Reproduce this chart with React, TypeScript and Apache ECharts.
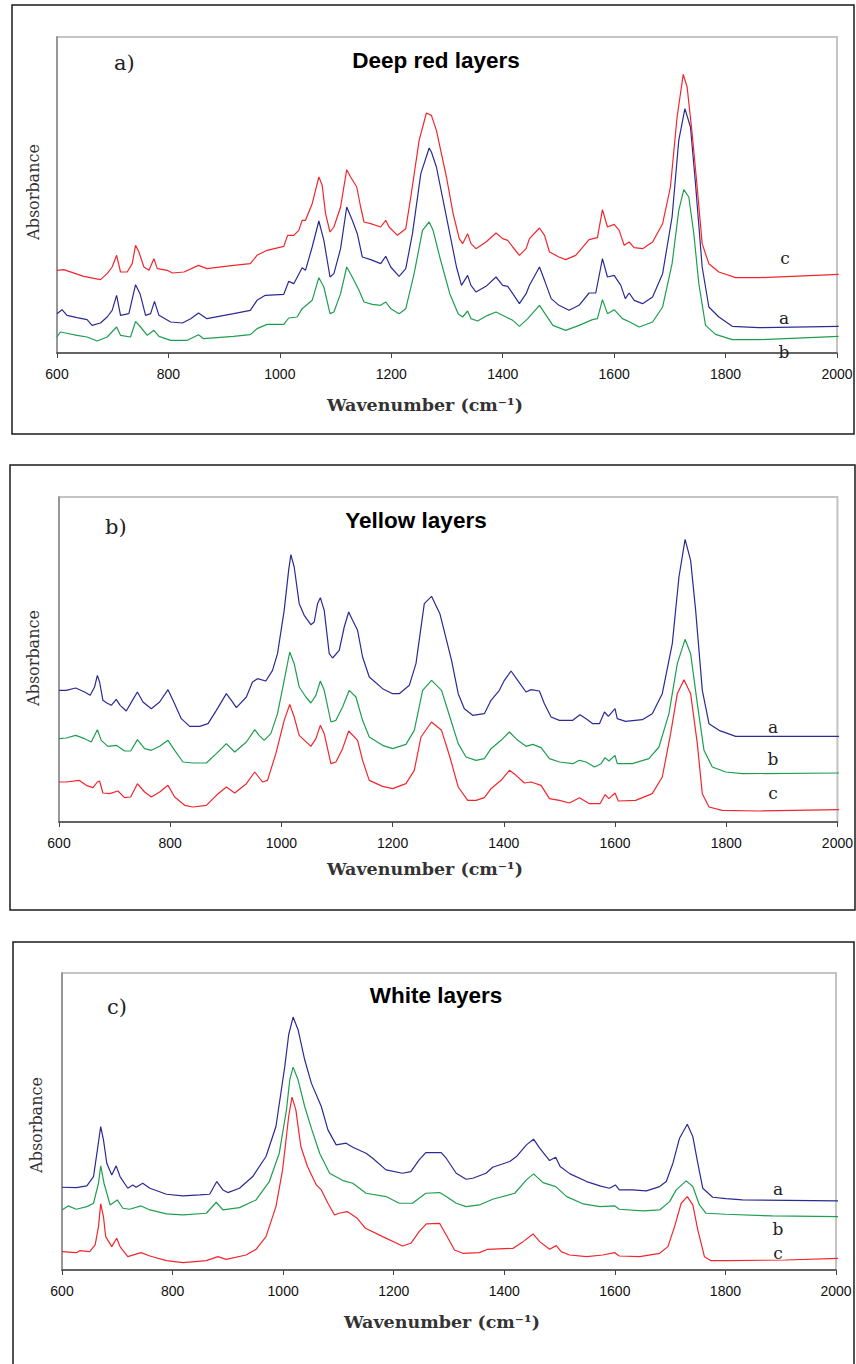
import React, { useEffect, useRef } from "react";
import * as echarts from "echarts";

// ---------- Panel a) Deep red layers (arbitrary absorbance units) ----------
const deepRedA: [number, number][] = [
  [600,118],[609,130],[618,113],[636,106],[654,100],[663,83],[678,90],[690,108],[699,128],[707,173],[714,113],[729,118],[741,205],[749,178],[759,113],[768,118],[775,155],[783,113],[804,93],[825,90],[840,103],[854,120],[869,103],[917,118],[947,128],[959,158],[974,173],[1007,176],[1016,215],[1025,208],[1040,256],[1046,248],[1058,318],[1070,396],[1079,338],[1090,228],[1097,238],[1109,313],[1120,438],[1130,398],[1139,358],[1148,288],[1163,280],[1181,268],[1190,290],[1199,258],[1214,230],[1226,253],[1238,358],[1253,538],[1268,615],[1272,603],[1281,558],[1293,458],[1305,358],[1317,258],[1326,203],[1337,233],[1343,203],[1352,183],[1370,200],[1388,228],[1400,203],[1409,200],[1418,178],[1430,148],[1442,178],[1448,203],[1466,258],[1475,218],[1487,163],[1501,143],[1519,128],[1537,143],[1555,180],[1567,180],[1579,283],[1588,228],[1600,233],[1612,203],[1620,163],[1627,180],[1636,158],[1651,148],[1669,168],[1687,238],[1704,408],[1716,638],[1727,733],[1737,678],[1746,508],[1758,258],[1770,138],[1788,108],[1812,80],[1860,76],[2003,80]
];
const deepRedB: [number, number][] = [
  [600,48],[606,63],[615,60],[636,53],[654,48],[672,36],[690,48],[707,78],[714,53],[732,48],[741,95],[750,78],[762,53],[774,68],[783,50],[804,38],[834,38],[854,55],[863,43],[917,50],[947,55],[959,73],[977,86],[1007,86],[1016,105],[1031,108],[1040,133],[1058,158],[1070,226],[1079,198],[1090,118],[1097,123],[1109,178],[1120,258],[1130,228],[1142,188],[1151,153],[1166,146],[1181,143],[1190,153],[1199,133],[1214,118],[1226,133],[1241,238],[1256,368],[1268,393],[1275,368],[1287,288],[1305,178],[1320,118],[1328,108],[1337,126],[1343,103],[1355,96],[1373,113],[1388,123],[1406,108],[1418,98],[1430,80],[1445,103],[1466,143],[1478,113],[1490,83],[1513,68],[1537,83],[1561,100],[1570,103],[1579,160],[1588,118],[1600,130],[1615,103],[1628,93],[1645,78],[1669,93],[1687,138],[1704,268],[1716,428],[1725,490],[1734,468],[1743,358],[1752,208],[1764,83],[1782,56],[1812,40],[1860,40],[2003,50]
];
const deepRedC: [number, number][] = [
  [600,248],[612,250],[648,230],[678,220],[690,238],[699,258],[707,293],[714,243],[726,243],[735,268],[741,323],[747,303],[756,258],[765,248],[774,283],[780,253],[798,248],[807,240],[828,243],[854,263],[869,253],[917,263],[947,268],[959,293],[977,308],[1007,320],[1014,353],[1025,353],[1034,368],[1040,398],[1046,398],[1058,448],[1070,528],[1076,503],[1082,418],[1090,363],[1097,378],[1109,438],[1120,550],[1127,528],[1138,498],[1145,438],[1151,393],[1163,388],[1181,378],[1190,398],[1196,378],[1211,353],[1226,373],[1235,468],[1250,638],[1263,720],[1272,713],[1281,668],[1299,528],[1311,418],[1322,343],[1328,328],[1337,358],[1343,328],[1352,313],[1370,333],[1388,360],[1400,343],[1409,338],[1418,318],[1430,293],[1442,313],[1448,343],[1466,375],[1475,353],[1484,303],[1501,288],[1513,280],[1531,293],[1555,340],[1570,346],[1579,430],[1588,378],[1600,386],[1609,368],[1618,323],[1627,333],[1636,316],[1651,313],[1669,333],[1687,388],[1701,498],[1713,708],[1724,836],[1731,798],[1740,658],[1749,498],[1758,328],[1770,268],[1788,243],[1818,226],[1860,226],[1919,230],[2003,236]
];

// ---------- Panel b) Yellow layers ----------
const yellowA: [number, number][] = [
  [600,395],[613,395],[630,402],[646,390],[656,380],[664,405],[669,440],[673,420],[679,365],[686,357],[694,350],[703,368],[710,350],[721,333],[732,365],[741,390],[751,360],[766,340],[781,360],[796,397],[805,365],[820,310],[835,287],[853,287],[868,295],[883,335],[901,385],[910,365],[919,343],[937,375],[948,420],[957,430],[972,423],[984,455],[993,505],[1005,635],[1013,755],[1017,802],[1023,765],[1032,655],[1041,620],[1053,592],[1059,600],[1065,655],[1070,673],[1077,635],[1086,505],[1092,492],[1104,515],[1113,585],[1121,630],[1128,605],[1137,575],[1146,495],[1158,435],[1182,400],[1200,385],[1212,385],[1230,410],[1242,475],[1257,655],[1270,677],[1285,625],[1294,565],[1306,485],[1318,385],[1329,340],[1344,320],[1365,325],[1377,365],[1392,395],[1401,425],[1413,453],[1425,425],[1440,390],[1449,397],[1464,393],[1473,355],[1485,315],[1500,305],[1524,305],[1537,322],[1548,310],[1560,295],[1572,295],[1581,330],[1588,317],[1600,340],[1604,310],[1619,302],[1649,307],[1667,325],[1685,385],[1703,535],[1715,735],[1726,848],[1736,785],[1745,635],[1757,395],[1769,295],[1787,275],[1817,257],[1858,257],[2005,257]
];
const yellowB: [number, number][] = [
  [600,250],[613,252],[630,260],[646,250],[658,240],[669,277],[676,245],[688,227],[703,230],[718,213],[729,213],[741,247],[754,220],[766,215],[781,227],[796,245],[808,215],[823,180],[841,177],[865,177],[883,205],[901,235],[916,210],[937,240],[952,277],[960,260],[969,245],[981,265],[993,325],[1005,425],[1015,510],[1023,475],[1032,405],[1044,375],[1053,357],[1062,380],[1070,423],[1077,395],[1089,300],[1098,305],[1110,345],[1122,395],[1134,375],[1146,305],[1158,255],[1182,230],[1200,220],[1224,233],[1239,275],[1254,395],[1270,425],[1288,395],[1303,315],[1318,235],[1332,195],[1350,185],[1365,190],[1377,220],[1395,245],[1410,270],[1425,245],[1440,227],[1452,233],[1467,223],[1482,190],[1500,180],[1524,175],[1536,185],[1548,180],[1563,165],[1575,175],[1582,193],[1589,183],[1600,200],[1604,175],[1631,175],[1661,190],[1679,225],[1697,325],[1712,475],[1726,548],[1736,505],[1748,355],[1760,215],[1775,165],[1799,150],[1829,145],[2005,147]
];
const yellowC: [number, number][] = [
  [600,120],[613,120],[636,125],[649,110],[661,103],[669,120],[673,123],[679,87],[691,85],[706,93],[718,73],[729,75],[741,115],[754,90],[766,75],[781,90],[796,110],[808,75],[826,50],[841,45],[865,50],[883,80],[901,105],[916,87],[937,115],[952,150],[966,120],[975,125],[990,205],[1005,305],[1015,353],[1023,315],[1032,260],[1053,227],[1062,250],[1070,290],[1077,265],[1089,175],[1098,180],[1110,220],[1121,273],[1137,245],[1146,185],[1158,125],[1182,107],[1200,100],[1224,115],[1239,155],[1251,255],[1270,300],[1288,275],[1303,195],[1318,105],[1335,65],[1350,65],[1365,73],[1377,100],[1395,125],[1410,155],[1422,140],[1437,117],[1449,120],[1467,110],[1482,70],[1500,65],[1518,57],[1536,73],[1554,55],[1573,55],[1582,82],[1589,70],[1600,87],[1606,63],[1637,65],[1667,85],[1685,135],[1700,265],[1712,385],[1724,427],[1736,385],[1748,235],[1757,85],[1769,45],[1793,35],[1858,33],[2005,37]
];

// ---------- Panel c) White layers ----------
const whiteA: [number, number][] = [
  [600,248],[626,247],[645,252],[657,280],[664,360],[670,430],[675,390],[681,320],[690,285],[698,312],[705,280],[719,245],[728,255],[734,248],[746,260],[759,245],[789,227],[819,222],[849,225],[867,227],[880,265],[891,240],[900,232],[921,245],[945,280],[969,340],[987,430],[1003,610],[1010,705],[1018,758],[1027,720],[1039,630],[1051,560],[1069,490],[1081,420],[1096,375],[1114,380],[1126,368],[1150,350],[1162,335],[1186,300],[1216,290],[1231,295],[1246,330],[1258,352],[1286,352],[1295,335],[1313,290],[1331,272],[1343,275],[1367,290],[1379,308],[1410,325],[1422,340],[1440,375],[1453,392],[1464,365],[1482,328],[1493,338],[1501,310],[1519,288],[1549,265],[1573,252],[1590,245],[1601,255],[1608,240],[1632,240],[1657,237],[1681,250],[1693,265],[1705,320],[1717,395],[1731,437],[1741,400],[1750,320],[1759,245],[1777,218],[1801,214],[1831,210],[2006,207]
];
const whiteB: [number, number][] = [
  [600,180],[611,192],[626,182],[645,190],[657,200],[666,260],[670,312],[676,260],[687,195],[700,210],[710,185],[722,182],[743,192],[759,180],[789,168],[819,165],[861,170],[879,203],[891,180],[921,187],[951,210],[975,265],[993,350],[1006,480],[1012,570],[1018,608],[1027,570],[1039,490],[1051,425],[1066,350],[1084,290],[1108,268],[1126,260],[1150,230],[1186,220],[1210,200],[1234,200],[1258,230],[1283,232],[1295,220],[1313,200],[1331,190],[1355,195],[1379,212],[1419,230],[1440,270],[1453,288],[1470,262],[1493,250],[1513,220],[1543,198],[1573,190],[1600,192],[1608,182],[1651,177],[1681,180],[1699,205],[1711,240],[1729,267],[1741,250],[1753,195],[1765,170],[1801,167],[1885,162],[2006,160]
];
const whiteC: [number, number][] = [
  [600,55],[626,52],[632,58],[650,55],[660,75],[666,130],[670,198],[675,160],[679,100],[690,70],[699,95],[705,70],[719,40],[743,52],[759,42],[789,28],[819,22],[861,28],[882,40],[897,32],[933,45],[951,62],[969,100],[987,190],[999,300],[1010,460],[1016,518],[1023,480],[1032,370],[1044,310],[1060,255],[1069,240],[1081,200],[1093,165],[1101,170],[1116,175],[1134,155],[1149,125],[1180,100],[1216,72],[1231,80],[1246,115],[1259,138],[1283,140],[1295,105],[1310,60],[1325,50],[1355,52],[1370,62],[1416,65],[1434,85],[1452,108],[1464,85],[1482,62],[1494,73],[1503,55],[1518,45],[1549,40],[1578,45],[1600,52],[1608,42],[1645,40],[1681,50],[1696,70],[1708,130],[1720,200],[1731,220],[1741,195],[1750,120],[1762,40],[1774,28],[1801,28],[1909,30],[2006,35]
];

const panelTitles = ["Deep red layers", "Yellow layers", "White layers"];
const panelTags = ["a)", "b)", "c)"];
const seriesNames = ["a", "b", "c"];
const yMax = [948, 975, 890];
const xTicks = { min: 600, max: 2000, interval: 200 };
const xTitle = "Wavenumber (cm⁻¹)";
const yTitle = "Absorbance";

const BLUE = "#2b2b95";
const GREEN = "#1f9e50";
const RED = "#f2262c";

const grids = [
  { left: 57, top: 37, width: 780, height: 316 },
  { left: 59, top: 497, width: 779, height: 325 },
  { left: 62, top: 973, width: 774, height: 297 },
];
const borders = [
  { x: 12, y: 5, w: 842, h: 429 },
  { x: 10, y: 465, w: 845, h: 445 },
  { x: 13, y: 942, w: 841, h: 440 },
];

export default function App() {
  const ref = useRef<HTMLDivElement>(null);
  useEffect(() => {
    if (!ref.current) return;
    const chart = echarts.init(ref.current, undefined, { renderer: "svg" });
    const panelData = [
      [deepRedA, deepRedB, deepRedC],
      [yellowA, yellowB, yellowC],
      [whiteA, whiteB, whiteC],
    ];
    const colors = [BLUE, GREEN, RED];
    const series: any[] = [];
    panelData.forEach((set, p) => {
      set.forEach((d, i) => {
        series.push({
          type: "line",
          name: seriesNames[i],
          xAxisIndex: p,
          yAxisIndex: p,
          data: d,
          symbol: "none",
          lineStyle: { color: colors[i], width: 1.2 },
          itemStyle: { color: colors[i] },
          z: 3,
        });
      });
    });

    const serif = "'DejaVu Serif', serif";
    const sans = "'Liberation Sans', Arial, sans-serif";
    const graphic: any[] = [];
    borders.forEach((b) => {
      graphic.push({
        type: "rect",
        shape: { x: b.x, y: b.y, width: b.w, height: b.h },
        style: { fill: "none", stroke: "#1a1a1a", lineWidth: 1.5 },
        z: 0,
      });
    });
    const titlePos = [
      { x: 436, y: 60 },
      { x: 416, y: 520 },
      { x: 436, y: 995 },
    ];
    const tagPos = [
      { x: 114, y: 63 },
      { x: 105, y: 527 },
      { x: 107, y: 1007 },
    ];
    const yTitlePos = [
      { x: 33, y: 192 },
      { x: 33, y: 658 },
      { x: 36, y: 1125 },
    ];
    const xTitlePos = [
      { x: 425, y: 405 },
      { x: 425, y: 869 },
      { x: 442, y: 1322 },
    ];
    const labelPos = [
      [{ x: 784, y: 318 }, { x: 784, y: 352 }, { x: 785, y: 258 }],
      [{ x: 773, y: 727 }, { x: 773, y: 759 }, { x: 773, y: 793 }],
      [{ x: 778, y: 1189 }, { x: 778, y: 1229 }, { x: 778, y: 1253 }],
    ];
    for (let p = 0; p < 3; p++) {
      graphic.push({
        type: "text",
        x: titlePos[p].x,
        y: titlePos[p].y,
        style: {
          text: panelTitles[p],
          font: `bold 22.5px ${sans}`,
          fill: "#000",
          align: "center",
          verticalAlign: "middle",
        },
        z: 10,
      });
      graphic.push({
        type: "text",
        x: tagPos[p].x,
        y: tagPos[p].y,
        style: {
          text: panelTags[p],
          font: `21px ${serif}`,
          fill: "#222",
          align: "left",
          verticalAlign: "middle",
        },
        z: 10,
      });
      graphic.push({
        type: "text",
        x: yTitlePos[p].x,
        y: yTitlePos[p].y,
        rotation: Math.PI / 2,
        style: {
          text: yTitle,
          font: `16px ${serif}`,
          fill: "#333",
          align: "center",
          verticalAlign: "middle",
        },
        z: 10,
      });
      graphic.push({
        type: "text",
        x: xTitlePos[p].x,
        y: xTitlePos[p].y,
        style: {
          text: xTitle,
          font: `bold 17.5px ${serif}`,
          fill: "#333",
          align: "center",
          verticalAlign: "middle",
        },
        z: 10,
      });
      for (let i = 0; i < 3; i++) {
        graphic.push({
          type: "text",
          x: labelPos[p][i].x,
          y: labelPos[p][i].y,
          style: {
            text: seriesNames[i],
            font: `17px ${serif}`,
            fill: "#222",
            align: "center",
            verticalAlign: "middle",
          },
          z: 10,
        });
      }
    }

    chart.setOption({
      animation: false,
      backgroundColor: "#ffffff",
      grid: grids.map((g) => ({
        ...g,
        show: true,
        borderColor: "#c4c4c4",
        borderWidth: 2,
        backgroundColor: "transparent",
        containLabel: false,
      })),
      xAxis: grids.map((_, p) => ({
        type: "value",
        gridIndex: p,
        min: xTicks.min,
        max: xTicks.max,
        interval: xTicks.interval,
        axisLine: { show: true, onZero: false, lineStyle: { color: "#444", width: 1.5 } },
        axisTick: { show: true, inside: false, length: 5, lineStyle: { color: "#444" } },
        axisLabel: {
          color: "#111",
          fontSize: 14,
          fontFamily: sans,
          margin: 14,
          formatter: (v: number) => String(v),
        },
        splitLine: { show: false },
      })),
      yAxis: grids.map((_, p) => ({
        type: "value",
        gridIndex: p,
        min: 0,
        max: yMax[p],
        axisLine: { show: true, lineStyle: { color: "#888", width: 1.5 } },
        axisTick: { show: false },
        axisLabel: { show: false },
        splitLine: { show: false },
      })),
      series,
      graphic,
    });
    return () => chart.dispose();
  }, []);
  return (
    <div
      ref={ref}
      style={{ position: "absolute", left: 0, top: 0, width: 856, height: 1364, background: "#fff" }}
    />
  );
}
